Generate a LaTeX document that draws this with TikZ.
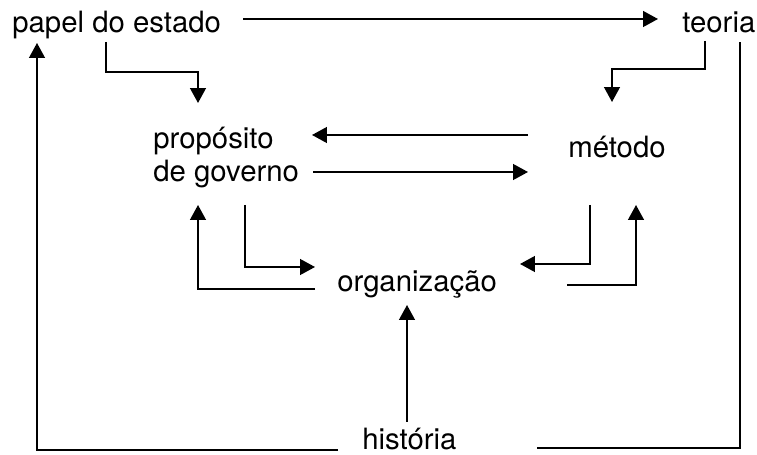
\documentclass[tikz,border=0pt]{standalone}
\usepackage{fontspec}
\setmainfont{TeX Gyre Heros}
\usetikzlibrary{arrows.meta,calc}
\newcommand\ciclotextstyle{\fontsize{16.7}{19.3}\selectfont}
\newcommand\ciclolinewidth{1pt}
\tikzset{
  ciclo/.style={anchor=base west, inner sep=0pt, font=\ciclotextstyle},
  linha/.style={line width=\ciclolinewidth},
  seta/.style={linha, -{Triangle[width=9pt, length=8.5pt]}}
}
\begin{document}
\begin{tikzpicture}[x=0.02cm, y=-0.02cm]
    \useasboundingbox (0,0) rectangle (757,455);
    \node[ciclo] (papel) at (12,33) {papel do estado};
    \node[ciclo] (teoria) at (682,33) {teoria};
    \node[ciclo, align=left] (proposito) at (153,182) {propósito\\de governo};
    \node[ciclo] (metodo) at (568,158) {método};
    \node[ciclo] (organizacao) at (337,292) {organização};
    \node[ciclo] (historia) at (362,450) {história};
    \draw[seta] ($(papel.base west)+(231,-14)$) -- ($(teoria.base west)+(-24,-14)$);
    \draw[seta] ($(papel.base west)+(94,9)$) -- ++(0,30)
       -| ($(proposito.base west)+(45,-79)$);
    \draw[seta] ($(teoria.base west)+(23,8)$) -- ++(0,28)
       -| ($(metodo.base west)+(44,-56)$);
    \draw[seta] ($(metodo.base west)+(-40,-23)$) -- ($(proposito.base west)+(159,-47)$);
    \draw[seta] ($(proposito.base west)+(160,-10)$) -- ($(metodo.base west)+(-40,14)$);
    \draw[seta] ($(organizacao.base west)+(-22,-3)$) -| ($(proposito.base west)+(45,23)$);
    \draw[seta] ($(proposito.base west)+(92,23)$) |- ($(organizacao.base west)+(-22,-25)$);
    \draw[seta] ($(metodo.base west)+(22,47)$) |- ($(organizacao.base west)+(183,-28)$);
    \draw[seta] ($(organizacao.base west)+(230,-7)$) -| ($(metodo.base west)+(68,47)$);
    \draw[seta] ($(historia.base west)+(45,-28)$) -- ($(organizacao.base west)+(70,13)$);
    \draw[seta] ($(historia.base west)+(-24,0)$) -| ($(papel.base west)+(25,10)$);
    \draw[linha] ($(historia.base west)+(175,-2)$) -| ($(teoria.base west)+(58,9)$);
\end{tikzpicture}
\end{document}
